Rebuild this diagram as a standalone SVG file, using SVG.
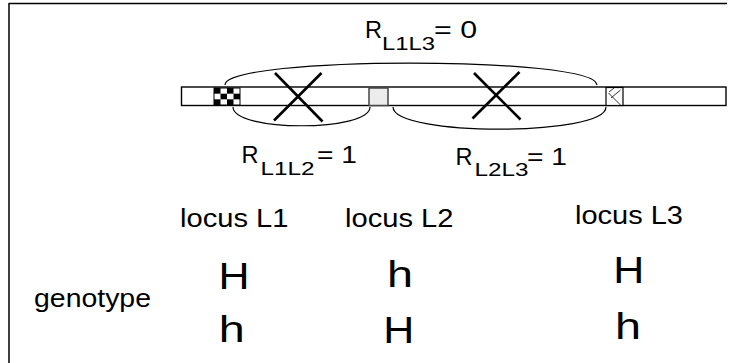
<svg xmlns="http://www.w3.org/2000/svg" width="736" height="363" viewBox="0 0 736 363">
<style>
text{font-family:"Liberation Sans",Arial,sans-serif;fill:#000}
.big{font-size:23px}
.sub{font-size:19px}
.loc{font-size:25px}
.al{font-size:36px}
.arc{fill:none;stroke:#000;stroke-width:1.2}
.x{stroke:#000;stroke-width:2.6;stroke-linecap:butt}
</style>
<rect x="0" y="0" width="736" height="363" fill="#fff"/>
<g id="frame" stroke="#000" stroke-width="1.5" fill="none">
<path d="M9,3.5 H727 M9,3 V363"/>
</g>
<g id="chromosome">
<rect x="181.5" y="87" width="544.5" height="18.5" fill="#fff" stroke="#000" stroke-width="1.4"/>
</g>
<g id="locus-L1">
<rect x="214" y="88" width="26" height="17" fill="#fff" stroke="#000" stroke-width="1"/>
<g fill="#000">
<rect x="214" y="88" width="6.5" height="5.67"/>
<rect x="227" y="88" width="6.5" height="5.67"/>
<rect x="220.5" y="93.67" width="6.5" height="5.67"/>
<rect x="233.5" y="93.67" width="6.5" height="5.67"/>
<rect x="214" y="99.33" width="6.5" height="5.67"/>
<rect x="227" y="99.33" width="6.5" height="5.67"/>
</g>
</g>
<g id="locus-L2">
<rect x="369" y="88" width="19" height="17.5" fill="#ececec" stroke="#444" stroke-width="1.5"/>
</g>
<g id="locus-L3">
<rect x="606" y="87.5" width="17" height="18" fill="#fff" stroke="#000" stroke-width="1.2"/>
<path d="M608.5,93 L620.5,105 M620.5,90 L611,98 M614,88 L609,92" stroke="#333" stroke-width="1" fill="none"/>
</g>
<g id="crossover-1">
<line class="x" x1="275" y1="73" x2="322.5" y2="121.5"/>
<line class="x" x1="321.5" y1="73" x2="274" y2="120.5"/>
</g>
<g id="crossover-2">
<line class="x" x1="474" y1="73" x2="520.5" y2="119.5"/>
<line class="x" x1="519.5" y1="72" x2="472.5" y2="118.5"/>
</g>
<g id="connectors">
<path class="arc" d="M225,85 C225,55.7 597,55.7 597,85"/>
<path class="arc" d="M233,107 C233,132 370,132 370,107"/>
<path class="arc" d="M393,107 C393,136.5 606,136.5 606,107"/>
</g>
<g id="label-R-L1L3">
<text class="big" x="365" y="38.3" textLength="17" lengthAdjust="spacingAndGlyphs">R</text>
<text class="sub" x="382" y="49.5" textLength="53" lengthAdjust="spacingAndGlyphs">L1L3</text>
<text class="big" x="434" y="38.3" textLength="43" lengthAdjust="spacingAndGlyphs">= 0</text>
</g>
<g id="label-R-L1L2">
<text class="big" x="241.5" y="163.3" textLength="17" lengthAdjust="spacingAndGlyphs">R</text>
<text class="sub" x="260.5" y="174.5" textLength="54" lengthAdjust="spacingAndGlyphs">L1L2</text>
<text class="big" x="317" y="163.3" textLength="40" lengthAdjust="spacingAndGlyphs">= 1</text>
</g>
<g id="label-R-L2L3">
<text class="big" x="455.5" y="165" textLength="17" lengthAdjust="spacingAndGlyphs">R</text>
<text class="sub" x="474.5" y="176" textLength="54" lengthAdjust="spacingAndGlyphs">L2L3</text>
<text class="big" x="527" y="165" textLength="40" lengthAdjust="spacingAndGlyphs">= 1</text>
</g>
<g id="locus-label-L1">
<text class="loc" x="180" y="227.3" textLength="108.5" lengthAdjust="spacingAndGlyphs">locus L1</text>
</g>
<g id="locus-label-L2">
<text class="loc" x="345" y="226.7" textLength="108.5" lengthAdjust="spacingAndGlyphs">locus L2</text>
</g>
<g id="locus-label-L3">
<text class="loc" x="575" y="224" textLength="108" lengthAdjust="spacingAndGlyphs">locus L3</text>
</g>
<g id="genotype-label">
<text style="font-size:26px" x="34" y="307" textLength="117" lengthAdjust="spacingAndGlyphs">genotype</text>
</g>
<g id="alleles-L1">
<text class="al" x="218.5" y="289.3" textLength="31" lengthAdjust="spacingAndGlyphs">H</text>
<text class="al" x="218.8" y="341.7" textLength="26" lengthAdjust="spacingAndGlyphs">h</text>
</g>
<g id="alleles-L2">
<text class="al" x="387" y="287.3" textLength="26" lengthAdjust="spacingAndGlyphs">h</text>
<text class="al" x="383.3" y="342.7" textLength="31" lengthAdjust="spacingAndGlyphs">H</text>
</g>
<g id="alleles-L3">
<text class="al" x="613.3" y="283.3" textLength="31" lengthAdjust="spacingAndGlyphs">H</text>
<text class="al" x="615" y="339.3" textLength="26" lengthAdjust="spacingAndGlyphs">h</text>
</g>
</svg>
